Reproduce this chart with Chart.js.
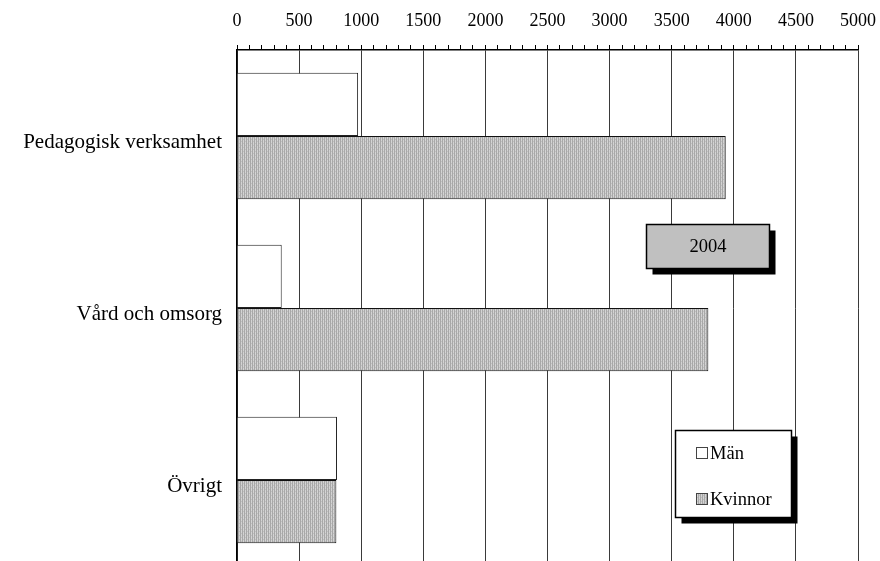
<!DOCTYPE html>
<html>
<head>
<meta charset="utf-8">
<script src="https://cdn.jsdelivr.net/npm/chart.js@4.4.1/dist/chart.umd.min.js"></script>
<style>
  html, body { margin: 0; padding: 0; background: #fff; overflow: hidden; }
  canvas { display: block; }
</style>
</head>
<body>
<canvas id="chart" width="880" height="566"></canvas>
<script>
// Data
const categories = ['Pedagogisk verksamhet', 'Vård och omsorg', 'Övrigt'];
const menValues = [975, 360, 805];
const womenValues = [3935, 3795, 800];
const seriesNames = ['Män', 'Kvinnor'];
const yearLabel = '2004';
const axisMax = 5000;

const serif = "'Liberation Serif', 'Times New Roman', serif";

// Dotted grey fill for the Kvinnor bars
const makePattern = () => {
  const p = document.createElement('canvas');
  p.width = 4;
  p.height = 4;
  const c = p.getContext('2d');
  c.fillStyle = '#d4d4d4';
  c.fillRect(0, 0, 4, 4);
  c.fillStyle = '#a8a8a8';
  c.fillRect(0, 0, 1, 4);
  c.fillRect(2, 0, 1, 4);
  c.fillStyle = '#c0c0c0';
  c.fillRect(1, 1, 1, 1);
  c.fillRect(3, 3, 1, 1);
  return c.createPattern(p, 'repeat');
};

const womenFill = makePattern();

// Draws the "2004" box and the legend box with their drop shadows
const boxesPlugin = {
  id: 'boxes',
  afterDraw(chart) {
    const ctx = chart.ctx;
    ctx.save();

    const shadowBox = (x, y, w, h, fill, off) => {
      ctx.fillStyle = '#000';
      ctx.fillRect(x + off, y + off, w, h);
      ctx.fillStyle = fill;
      ctx.fillRect(x, y, w, h);
      ctx.strokeStyle = '#000';
      ctx.lineWidth = 1.5;
      ctx.strokeRect(x, y, w, h);
    };

    // year label
    shadowBox(646.5, 224.5, 123, 44, '#c0c0c0', 6);
    ctx.fillStyle = '#000';
    ctx.font = '18.5px ' + serif;
    ctx.textAlign = 'center';
    ctx.textBaseline = 'middle';
    ctx.fillText(yearLabel, 708, 247);

    // legend
    shadowBox(675.5, 430.5, 116, 87, '#fff', 6);
    ctx.font = '18.5px ' + serif;
    ctx.textAlign = 'left';
    ctx.textBaseline = 'middle';
    const rows = [453, 499];
    chart.data.datasets.forEach((ds, i) => {
      const y = rows[i];
      ctx.fillStyle = ds.backgroundColor;
      ctx.fillRect(696.5, y - 5.5, 11, 11);
      ctx.strokeStyle = '#444';
      ctx.lineWidth = 1;
      ctx.strokeRect(696.5, y - 5.5, 11, 11);
      ctx.fillStyle = '#000';
      ctx.fillText(ds.label, 710, y + 1);
    });

    ctx.restore();
  }
};

new Chart(document.getElementById('chart'), {
  type: 'bar',
  data: {
    labels: categories,
    datasets: [
      {
        label: seriesNames[0],
        data: menValues,
        backgroundColor: '#ffffff',
        borderColor: '#222',
        borderWidth: 1,
        categoryPercentage: 0.735,
        barPercentage: 1
      },
      {
        label: seriesNames[1],
        data: womenValues,
        backgroundColor: womenFill,
        borderColor: '#111',
        borderWidth: 1,
        categoryPercentage: 0.735,
        barPercentage: 1
      }
    ]
  },
  options: {
    indexAxis: 'y',
    responsive: false,
    animation: false,
    layout: { padding: { left: 0, right: 22, top: 0, bottom: 0 } },
    plugins: {
      legend: { display: false },
      tooltip: { enabled: false }
    },
    scales: {
      x: {
        type: 'linear',
        position: 'top',
        min: 0,
        max: axisMax,
        afterFit: (scale) => {
          scale.height = 50;
          scale.paddingLeft = 0;
          scale.paddingRight = 0;
        },
        ticks: {
          stepSize: 100,
          autoSkip: false,
          maxRotation: 0,
          padding: 13,
          color: '#000',
          font: { family: serif, size: 18 },
          callback: (v) => (v % 500 === 0 ? String(v) : '')
        },
        grid: {
          drawOnChartArea: true,
          drawTicks: true,
          tickLength: 5,
          tickColor: '#000',
          lineWidth: 1,
          color: (ctx) => (ctx.tick && ctx.tick.value % 500 === 0 ? '#3a3a3a' : 'rgba(0,0,0,0)')
        },
        border: { display: true, color: '#000', width: 1.5 }
      },
      y: {
        afterFit: (scale) => {
          scale.width = 237;
          scale.paddingTop = 0;
          scale.paddingBottom = 0;
        },
        ticks: {
          padding: 15,
          labelOffset: 6,
          color: '#000',
          font: { family: serif, size: 21 }
        },
        grid: { display: false, drawTicks: false },
        border: { display: true, color: '#000', width: 1.5 }
      }
    }
  },
  plugins: [boxesPlugin]
});
</script>
</body>
</html>
